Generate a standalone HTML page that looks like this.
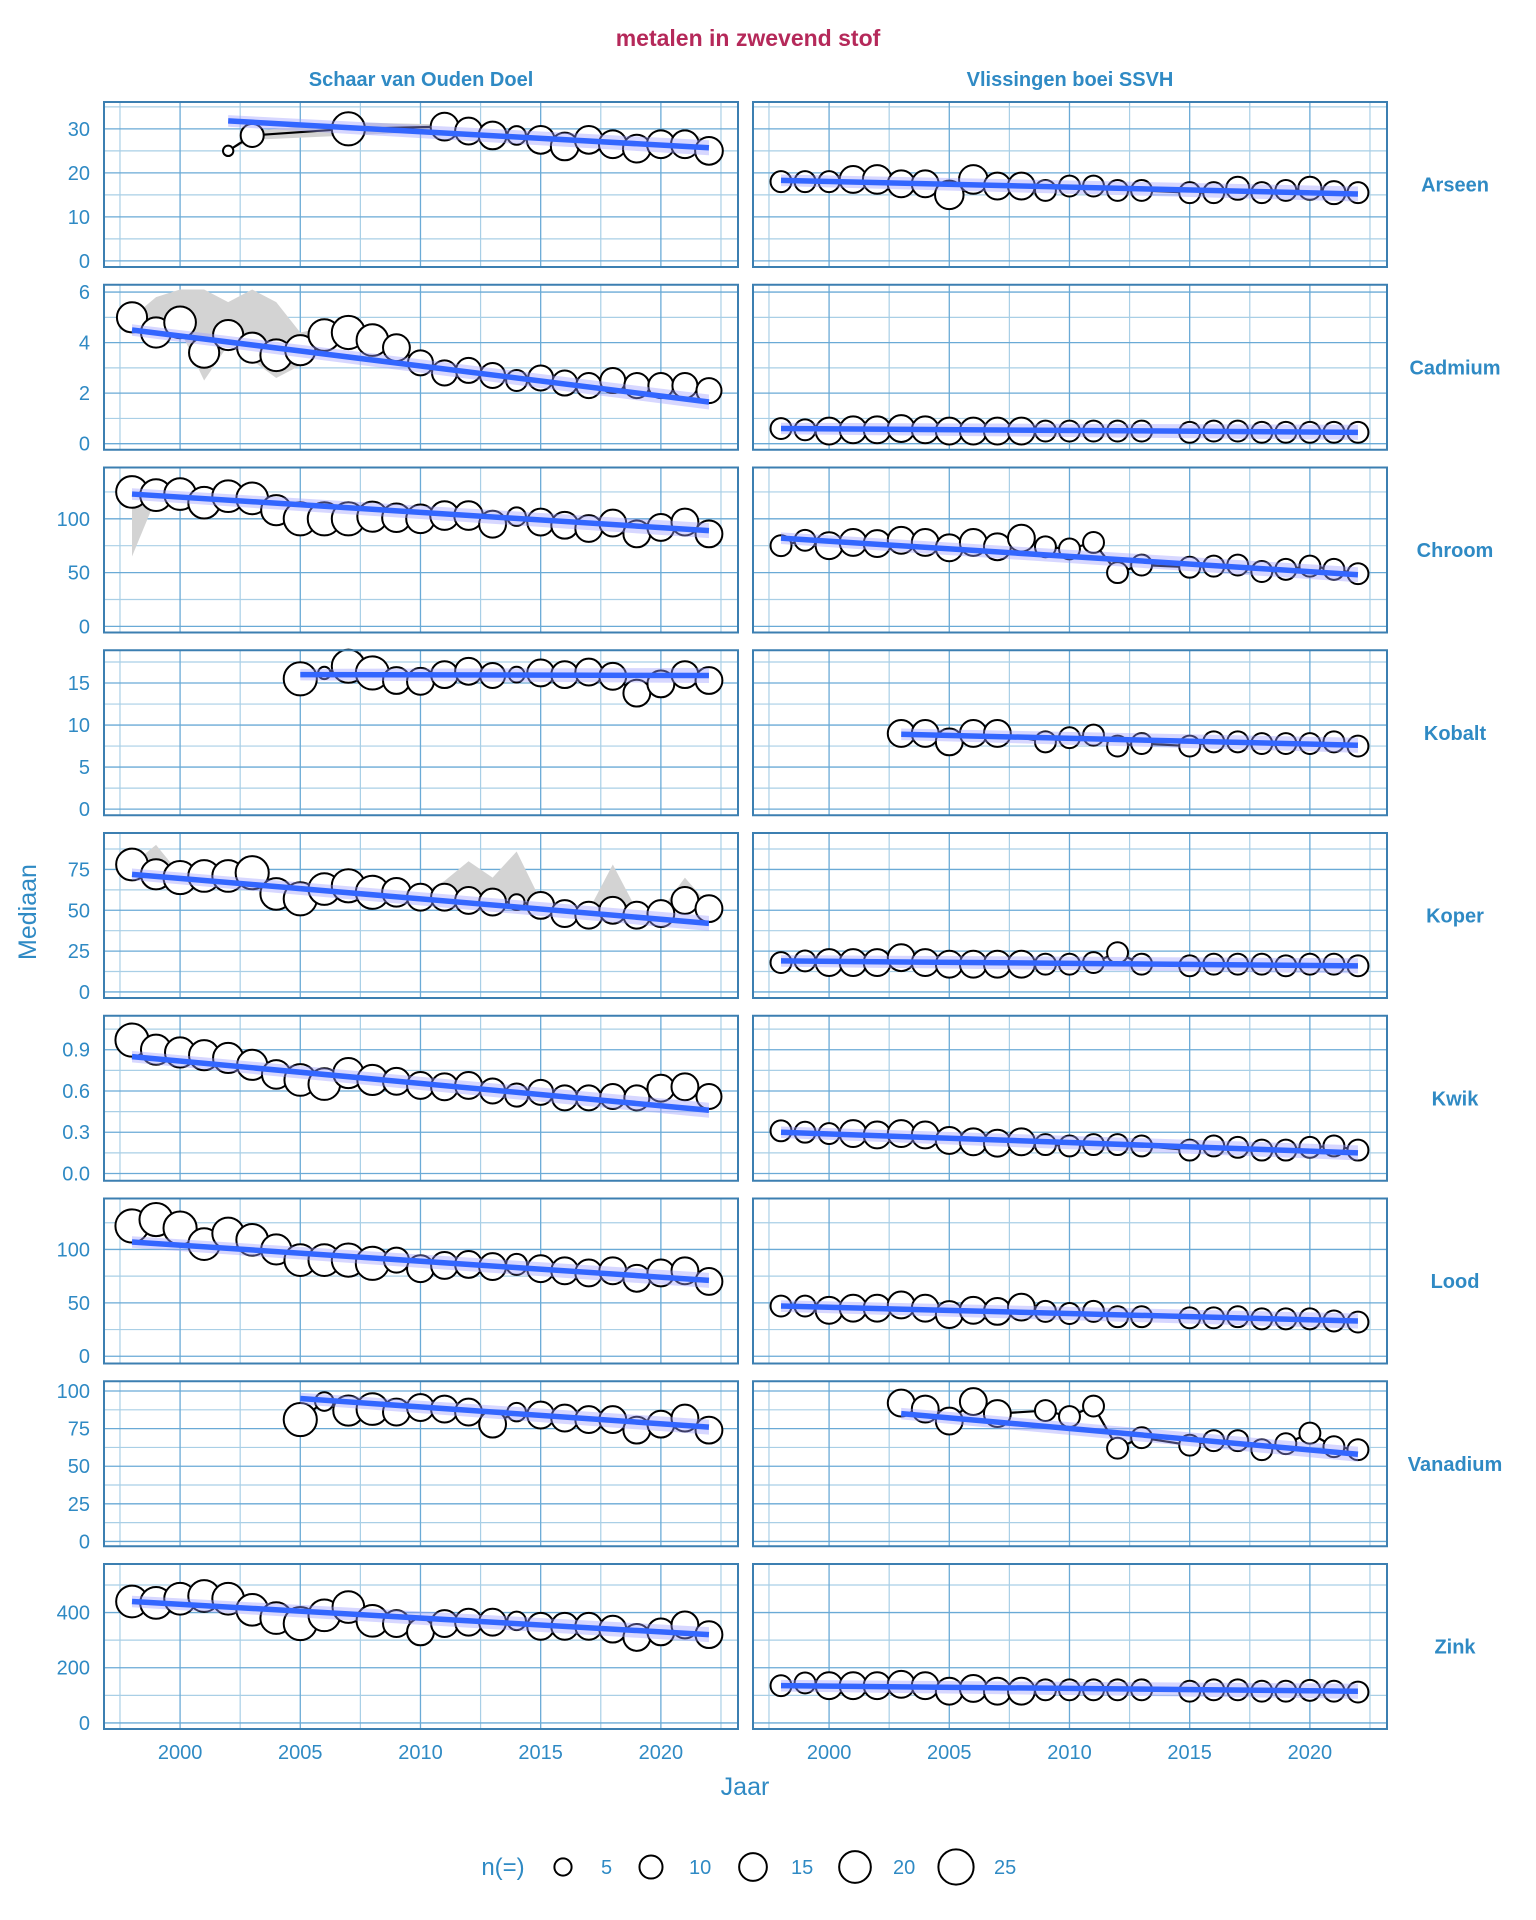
<!DOCTYPE html>
<html><head><meta charset="utf-8">
<style>
html,body{margin:0;padding:0;background:#fff;}
svg{display:block;font-family:"Liberation Sans",Arial,sans-serif;}
</style></head>
<body>
<svg id="chart" width="1536" height="1920" viewBox="0 0 1536 1920" xmlns="http://www.w3.org/2000/svg">
<text x="748" y="46" text-anchor="middle" font-size="23" font-weight="bold" fill="#b5295a">metalen in zwevend stof</text>
<text x="421" y="86" text-anchor="middle" font-size="20" font-weight="bold" fill="#2f8ac4">Schaar van Ouden Doel</text>
<text x="1070" y="86" text-anchor="middle" font-size="20" font-weight="bold" fill="#2f8ac4">Vlissingen boei SSVH</text>
<text transform="translate(36,912) rotate(-90)" text-anchor="middle" font-size="25" fill="#2f8ac4">Mediaan</text>
<text x="745" y="1795" text-anchor="middle" font-size="25" fill="#2f8ac4">Jaar</text>
<g id="panels"></g>
<g id="legend"></g>
</svg>
<script>
const metals = ["Arseen","Cadmium","Chroom","Kobalt","Koper","Kwik","Lood","Vanadium","Zink"];
const yDomainLo = [-1.4,-0.24,-5.7,-0.73,-3.7,-0.053,-6.8,-3.2,-22];
const yDomainHi = [36.1,6.29,147.7,18.9,97.3,1.147,147.7,106.5,576];
const yTicks = [[0,10,20,30],[0,2,4,6],[0,50,100],[0,5,10,15],[0,25,50,75],[0,0.3,0.6,0.9],[0,50,100],[0,25,50,75,100],[0,200,400]];
const yTickLabels = [["0","10","20","30"],["0","2","4","6"],["0","50","100"],["0","5","10","15"],["0","25","50","75"],["0.0","0.3","0.6","0.9"],["0","50","100"],["0","25","50","75","100"],["0","200","400"]];
const yMinor = [[5,15,25,35],[1,3,5],[25,75,125],[2.5,7.5,12.5,17.5],[12.5,37.5,62.5,87.5],[0.15,0.45,0.75,1.05],[25,75,125],[12.5,37.5,62.5,87.5],[100,300,500]];
const xTicks = [2000,2005,2010,2015,2020];
const xMinor = [1997.5,2002.5,2007.5,2012.5,2017.5,2022.5];

const yrsFull = [1998,1999,2000,2001,2002,2003,2004,2005,2006,2007,2008,2009,2010,2011,2012,2013,2014,2015,2016,2017,2018,2019,2020,2021,2022];
const yrsR = [1998,1999,2000,2001,2002,2003,2004,2005,2006,2007,2008,2009,2010,2011,2012,2013,2015,2016,2017,2018,2019,2020,2021,2022];

const L_years = [
 [2002,2003,2007,2011,2012,2013,2014,2015,2016,2017,2018,2019,2020,2021,2022],
 yrsFull, yrsFull,
 [2005,2006,2007,2008,2009,2010,2011,2012,2013,2014,2015,2016,2017,2018,2019,2020,2021,2022],
 yrsFull, yrsFull, yrsFull,
 [2005,2006,2007,2008,2009,2010,2011,2012,2013,2014,2015,2016,2017,2018,2019,2020,2021,2022],
 yrsFull];
const L_vals = [
 [25,28.5,30,30.5,29.5,28.5,28.5,27.5,26,27.5,26.5,25.5,26.5,26.5,25],
 [5.0,4.4,4.8,3.6,4.3,3.8,3.5,3.7,4.3,4.4,4.1,3.8,3.2,2.8,2.9,2.7,2.5,2.6,2.4,2.3,2.5,2.3,2.3,2.3,2.1],
 [125,122,123,115,121,119,108,100,100,100,102,101,100,103,103,95,102,97,94,91,96,86,92,97,86],
 [15.5,16.2,17,16.2,15.3,15.2,16,16.4,15.9,16,16.2,16,16.3,15.8,13.8,14.9,16,15.3],
 [78,72,70,71,71,73,60,57,63,65,61,61,58,58,56,55,55,53,48,47,50,47,48,56,51],
 [0.97,0.90,0.88,0.86,0.84,0.79,0.72,0.68,0.65,0.73,0.68,0.67,0.64,0.63,0.64,0.60,0.57,0.59,0.55,0.55,0.56,0.55,0.62,0.63,0.56],
 [122,128,120,105,115,109,100,90,90,90,87,90,82,85,86,84,86,82,80,78,80,73,78,80,70],
 [81,93,87,88,86,89,88,86,78,86,84,82,81,81,74,78,82,74],
 [440,435,450,460,450,410,380,360,390,420,370,360,330,360,365,365,370,350,350,350,340,310,330,355,320]];
const L_n = [
 [1,10,22,15,14,15,6,15,15,15,15,15,15,15,15],
 [18,18,20,18,18,18,20,18,20,22,20,14,12,12,12,12,8,12,12,12,12,12,12,12,12],
 [20,20,20,20,20,20,18,22,22,22,18,16,16,16,16,14,6,14,14,14,14,14,14,14,14],
 [22,2,22,22,14,14,14,14,12,4,14,14,14,14,14,14,14,14],
 [20,18,22,20,20,22,20,22,20,22,22,16,14,14,14,14,4,14,14,14,14,14,14,14,14],
 [22,18,18,18,18,18,16,20,20,18,18,14,14,14,14,12,10,12,12,12,12,12,14,14,12],
 [22,22,22,20,20,20,18,20,20,22,22,12,14,14,14,14,8,14,14,14,14,14,14,14,14],
 [22,6,18,20,14,14,14,14,14,6,14,14,14,14,14,14,14,14],
 [20,20,20,20,20,20,20,22,20,20,20,14,14,14,14,14,6,14,14,14,14,14,14,14,14]];
const L_trendStart = [[2002,31.8],[1998,4.5],[1998,123],[2005,16.0],[1998,72],[1998,0.85],[1998,107],[2005,95],[1998,440]];
const L_trendEnd = [[2022,25.7],[2022,1.65],[2022,89],[2022,15.9],[2022,42],[2022,0.46],[2022,71],[2022,76],[2022,320]];
const L_ribHi = [
 [25,29.5,31.5,31,30,29,29,28.5,27,28.5,27,26.5,27.5,30,27],
 [5.0,5.8,6.1,6.1,5.6,6.1,5.6,4.4,4.6,4.7,4.5,3.9,3.3,2.9,3.0,2.8,2.6,2.7,2.5,2.4,2.6,2.4,2.4,2.4,2.2],
 [125,125,126,120,124,121,111,103,103,103,105,104,103,106,106,98,105,100,97,94,99,89,95,100,89],
 null,
 [78,90,72,72,72,80,66,60,64,68,63,63,60,68,80,70,86,56,50,50,78,50,50,70,53],
 null,null,null,
 [440,470,470,470,470,430,395,370,400,425,380,370,340,370,370,370,375,360,355,355,345,320,335,360,325]];
const L_ribLo = [
 [25,27.5,28.5,29.5,28.5,27.5,27.5,26.5,25,26.5,25.5,24.5,25.5,25.5,24.5],
 [5.0,4.2,4.5,2.5,3.9,3.3,2.6,3.1,4.1,4.2,3.9,3.6,3.1,2.7,2.8,2.6,2.4,2.5,2.3,2.2,2.4,2.2,2.2,2.2,2.0],
 [65,119,120,112,118,116,105,97,97,97,99,98,97,100,100,92,99,94,91,88,93,83,89,94,83],
 null,
 [76,70,68,69,69,70,57,55,61,62,59,59,56,56,54,53,53,51,46,45,48,45,46,54,49],
 null,null,null,
 [435,430,440,450,440,400,370,350,380,410,360,350,325,350,355,355,360,340,340,340,330,305,325,345,315]];

const yrsK = [2003,2004,2005,2006,2007,2009,2010,2011,2012,2013,2015,2016,2017,2018,2019,2020,2021,2022];
const R_years = [yrsR,yrsR,yrsR,yrsK,yrsR,yrsR,yrsR,yrsK,yrsR];
const R_vals = [
 [18,18,18,18.5,18.5,17.5,17.5,15,18.5,17,17,16,17,17,16,16,15.5,15.5,16.5,15.5,16,16.5,15.5,15.5],
 [0.6,0.55,0.5,0.55,0.55,0.6,0.55,0.5,0.5,0.5,0.5,0.5,0.5,0.5,0.5,0.5,0.45,0.5,0.5,0.45,0.45,0.45,0.45,0.45],
 [75,80,75,78,77,80,78,73,78,74,82,74,72,78,50,57,55,56,57,51,53,56,53,49],
 [9,9,8,9,9,8,8.5,8.8,7.5,7.8,7.5,8,8,7.8,7.8,7.8,8,7.5],
 [18,19,18,18,18,21,18,17,17,17,17,17,17,18,24,17,16,17,17,17,16,17,17,16],
 [0.31,0.30,0.29,0.29,0.28,0.29,0.28,0.24,0.23,0.22,0.23,0.21,0.20,0.21,0.21,0.20,0.17,0.20,0.19,0.17,0.17,0.19,0.20,0.17],
 [47,47,43,45,45,48,45,39,43,42,46,42,40,42,37,37,36,36,37,35,35,35,33,32],
 [92,88,80,93,85,87,83,90,62,69,64,67,67,61,65,72,63,61],
 [135,145,135,135,135,140,135,115,125,115,115,120,120,120,120,120,115,120,120,115,115,118,115,112]];
const R_n = [
 [8,8,8,14,16,14,14,16,16,14,14,8,8,8,8,8,8,8,10,8,8,10,10,8],
 [8,8,14,14,14,14,14,14,14,14,14,8,8,8,8,8,8,8,8,8,8,8,8,8],
 [8,8,14,14,14,14,14,14,14,14,14,8,8,8,8,8,8,8,8,8,8,8,8,8],
 [14,14,14,14,14,8,8,8,8,8,8,8,8,8,8,8,8,8],
 [8,8,14,14,14,14,14,14,14,14,14,8,8,8,8,8,8,8,8,8,8,8,8,8],
 [8,8,8,14,14,14,14,14,14,14,14,8,8,8,8,8,8,8,8,8,8,8,8,8],
 [8,8,14,14,14,14,14,14,14,14,14,8,8,8,8,8,8,8,8,8,8,8,8,8],
 [14,14,14,14,14,8,8,8,8,8,8,8,8,8,8,8,8,8],
 [8,8,14,14,14,14,14,14,14,14,14,8,8,8,8,8,8,8,8,8,8,8,8,8]];
const R_trendStart = [[1998,18.3],[1998,0.6],[1998,82],[2003,8.9],[1998,19],[1998,0.30],[1998,47],[2003,85],[1998,135]];
const R_trendEnd = [[2022,15.2],[2022,0.45],[2022,48],[2022,7.6],[2022,16],[2022,0.15],[2022,33],[2022,58],[2022,115]];

const legendN = [5,10,15,20,25];

const NS = "http://www.w3.org/2000/svg";
const colLeft = [104,753], panelW = 634, panelH = 165, rowTop0 = 102, rowPitch = 182.75;
function el(tag, attrs, parent){const e=document.createElementNS(NS,tag);for(const k in attrs)e.setAttribute(k,attrs[k]);parent.appendChild(e);return e;}
function xScale(c, yr){return colLeft[c] + 28 + (yr-1998)*24.04;}
function yScale(r, v){const top=rowTop0+r*rowPitch;return top + (yDomainHi[r]-v)/(yDomainHi[r]-yDomainLo[r])*panelH;}
function radius(n){return Math.sqrt(15+11.8*n);}
const root = document.getElementById('panels');

for(let r=0;r<9;r++){
  const top = rowTop0 + r*rowPitch;
  for(let c=0;c<2;c++){
    const g = el('g',{},root);
    
    
    const L = colLeft[c];
    yMinor[r].forEach(v=>{const y=yScale(r,v); if(y>top&&y<top+panelH){const ln=el('line',{x1:L,x2:L+panelW,y1:y,y2:y,stroke:'#a9cfe6','stroke-width':1.2},g);
      
      }});
    xMinor.forEach(v=>{const x=xScale(c,v); const ln=el('line',{x1:x,x2:x,y1:top,y2:top+panelH,stroke:'#a9cfe6','stroke-width':1.2},g);
      
      });
    yTicks[r].forEach(v=>{const y=yScale(r,v); const ln=el('line',{x1:L,x2:L+panelW,y1:y,y2:y,stroke:'#6aaad6','stroke-width':1.3},g);
      
      });
    xTicks.forEach(v=>{const x=xScale(c,v); const ln=el('line',{x1:x,x2:x,y1:top,y2:top+panelH,stroke:'#6aaad6','stroke-width':1.3},g);
      
      });
    const years = c? R_years[r]:L_years[r];
    const vals = c? R_vals[r]:L_vals[r];
    const ns = c? R_n[r]:L_n[r];
    if(!c && L_ribHi[r]){
      const hi=L_ribHi[r], lo=L_ribLo[r];
      let d='';
      years.forEach((yr,i)=>{d+=(i?'L':'M')+xScale(c,yr)+','+yScale(r,hi[i]);});
      for(let i=years.length-1;i>=0;i--) d+='L'+xScale(c,years[i])+','+yScale(r,lo[i]);
      const p=el('path',{d:d+'Z',fill:'#d3d3d3'},g);
      
      
    }
    let pd='';
    years.forEach((yr,i)=>{pd+=(i?'L':'M')+xScale(c,yr)+','+yScale(r,vals[i]);});
    const dl=el('path',{d:pd,fill:'none',stroke:'#000','stroke-width':2.2},g);
    
    
    years.forEach((yr,i)=>{
      const ci=el('circle',{cx:xScale(c,yr),cy:yScale(r,vals[i]),r:radius(ns[i]),fill:'#fff',stroke:'#000','stroke-width':2},g);
      
      
    });
    const ts = c? R_trendStart[r]:L_trendStart[r], te = c? R_trendEnd[r]:L_trendEnd[r];
    const band = (yDomainHi[r]-yDomainLo[r])*0.035;
    const tx1=xScale(c,ts[0]), tx2=xScale(c,te[0]);
    const rb=el('path',{d:`M${tx1},${yScale(r,ts[1]+band)}L${tx2},${yScale(r,te[1]+band*1.3)}L${tx2},${yScale(r,te[1]-band*1.3)}L${tx1},${yScale(r,ts[1]-band)}Z`,fill:'#9a9aff','fill-opacity':0.4},g);
    
    
    const tl=el('line',{x1:tx1,y1:yScale(r,ts[1]),x2:tx2,y2:yScale(r,te[1]),stroke:'#3366ff','stroke-width':5.5},g);
    
    
    const b=el('rect',{x:L,y:top,width:panelW,height:panelH,fill:'none',stroke:'#3c7fb1','stroke-width':2},g);
    
    
    if(c===0){
      yTicks[r].forEach((v,i)=>{const t=el('text',{x:90,y:yScale(r,v)+7,'text-anchor':'end','font-size':20,fill:'#2f8ac4'},g);t.textContent=yTickLabels[r][i];
        
        });
    } else {
      const s=el('text',{x:1455,y:top+panelH/2+7,'text-anchor':'middle','font-size':20,'font-weight':'bold',fill:'#2f8ac4'},g);
      s.textContent=metals[r];
      
      
    }
    if(r===8){
      xTicks.forEach(v=>{const t=el('text',{x:xScale(c,v),y:1759,'text-anchor':'middle','font-size':20,fill:'#2f8ac4'},g);t.textContent=v;
        
        });
    }
  }
}
const lg=document.getElementById('legend');
const lt=el('text',{x:503,y:1875,'text-anchor':'middle','font-size':24,fill:'#2f8ac4'},lg);
lt.textContent='n(=)';


const legCx=[563,651,753,855,956];
legendN.forEach((n,i)=>{
  const ci=el('circle',{cx:legCx[i],cy:1867,r:radius(n),fill:'#fff',stroke:'#000','stroke-width':2},lg);
  
  
  const t=el('text',{x:legCx[i]+38,y:1874,'font-size':20,fill:'#2f8ac4'},lg);
  t.textContent=n;
  
  
});
</script>
</body></html>
